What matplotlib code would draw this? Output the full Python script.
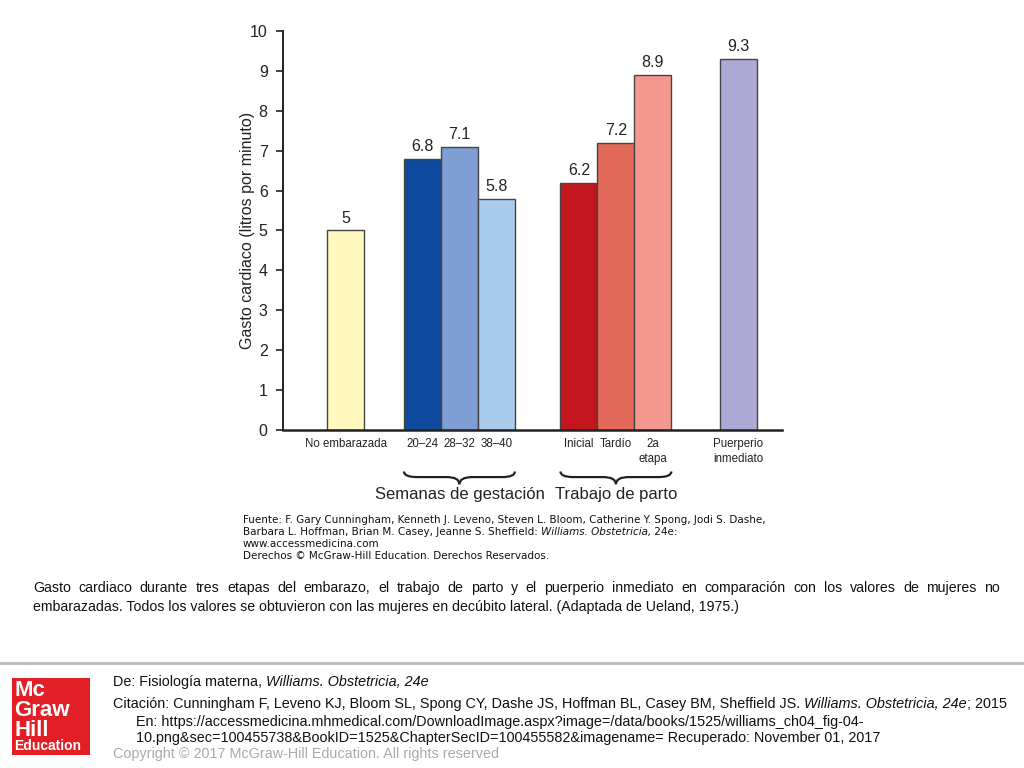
import matplotlib
matplotlib.use("Agg")
import matplotlib.pyplot as plt
from matplotlib.patches import Rectangle, PathPatch
from matplotlib.path import Path
import matplotlib.transforms as mtransforms

categories = ["No embarazada", "20–24", "28–32", "38–40", "Inicial", "Tardío", "2a\netapa", "Puerperio\ninmediato"]
values = [5, 6.8, 7.1, 5.8, 6.2, 7.2, 8.9, 9.3]
value_labels = ["5", "6.8", "7.1", "5.8", "6.2", "7.2", "8.9", "9.3"]
bar_colors = ["#FFF9BE", "#0E4A9E", "#7F9ED3", "#A9CBEC", "#C3161E", "#E46A5B", "#F4988F", "#ADA9D5"]
positions = [1.69, 3.77, 4.77, 5.77, 8.0, 9.0, 10.0, 12.31]
groups = [("Semanas de gestación", 1, 3), ("Trabajo de parto", 4, 6)]
y_ticks = list(range(0, 11))

plt.rcParams["font.family"] = ["Liberation Sans", "DejaVu Sans"]

fig = plt.figure(figsize=(10.24, 7.68), dpi=100)
ax = fig.add_axes([283/1024, 1-430/768, (782-283)/1024, (430-31)/768])
ax.bar(positions, values, width=1.0, color=bar_colors, edgecolor="#444444", linewidth=1.0, zorder=2)
for p, v, lab in zip(positions, values, value_labels):
    ax.text(p, v + 0.12, lab, ha="center", va="bottom", fontsize=11.5, color="#222222")
ax.set_xlim(0, 13.49)
ax.set_ylim(0, 10)
ax.set_yticks(y_ticks)
ax.tick_params(axis="y", labelsize=11.5, length=5, width=1.2, colors="#222222", pad=6)
ax.set_xticks(positions)
ax.set_xticklabels(categories, fontsize=8.3, color="#222222", linespacing=1.25)
ax.tick_params(axis="x", length=0, pad=6)
for s in ["top", "right"]:
    ax.spines[s].set_visible(False)
ax.spines["left"].set_linewidth(1.4)
ax.spines["bottom"].set_linewidth(1.8)
ax.spines["left"].set_color("#222222")
ax.spines["bottom"].set_color("#222222")
ax.set_ylabel("Gasto cardiaco (litros por minuto)", fontsize=11.5, color="#222222")
ax.yaxis.set_label_coords(-0.056, 0.5)

trans = mtransforms.blended_transform_factory(ax.transData, ax.transAxes)
for name, i0, i1 in groups:
    x0 = positions[i0] - 0.5
    x1 = positions[i1] + 0.5
    xm = (x0 + x1) / 2
    yt, yb, yv = -0.104, -0.118, -0.136
    r = 0.35
    cl = [Path.MOVETO, Path.CURVE3, Path.CURVE3, Path.LINETO, Path.CURVE3, Path.CURVE3]
    vl = [(x0, yt), (x0, yb), (x0 + r, yb), (xm - r, yb), (xm, yb), (xm, yv)]
    vr = [(x1, yt), (x1, yb), (x1 - r, yb), (xm + r, yb), (xm, yb), (xm, yv)]
    for vv in (vl, vr):
        pp = PathPatch(Path(vv, cl), facecolor="none", edgecolor="#222222", lw=1.6,
                       transform=trans, clip_on=False)
        ax.add_patch(pp)
    ax.text(xm, -0.162, name, transform=trans, ha="center", va="center", fontsize=12, color="#222222")

fig.canvas.draw()
renderer = fig.canvas.get_renderer()

def runs(x, y, parts, **kw):
    cx = x
    for txt, style in parts:
        t = fig.text(cx / 1024, 1 - y / 768, txt, va="center", ha="left", style=style, **kw)
        cx += t.get_window_extent(renderer).width
    return cx

# Source block
src = ("Fuente: F. Gary Cunningham, Kenneth J. Leveno, Steven L. Bloom, Catherine Y. Spong, Jodi S. Dashe,",
       "Barbara L. Hoffman, Brian M. Casey, Jeanne S. Sheffield: ", "www.accessmedicina.com",
       "Derechos © McGraw-Hill Education. Derechos Reservados.")
sk = dict(fontsize=7.45, color="#111111", family="DejaVu Sans")
runs(243, 520, [(src[0], "normal")], **sk)
runs(243, 532, [(src[1], "normal"), ("Williams. Obstetricia,", "italic"), (" 24e:", "normal")], **sk)
runs(243, 544, [(src[2], "normal")], **sk)
runs(243, 556, [(src[3], "normal")], **sk)

# Caption, justified first line
cap1 = "Gasto cardiaco durante tres etapas del embarazo, el trabajo de parto y el puerperio inmediato en comparación con los valores de mujeres no"
cap2 = "embarazadas. Todos los valores se obtuvieron con las mujeres en decúbito lateral. (Adaptada de Ueland, 1975.)"
ck = dict(fontsize=10.2, color="#111111", family="Liberation Sans")
words = cap1.split(" ")
objs = []
tot = 0
for w in words:
    t = fig.text(0, 0, w, **ck)
    wd = t.get_window_extent(renderer).width
    objs.append((t, wd))
    tot += wd
L, R = 33, 1000
gap = (R - L - tot) / (len(words) - 1)
cx = L
for t, wd in objs:
    t.set_position((cx / 1024, 1 - 588 / 768))
    t.set_va("center")
    cx += wd + gap
fig.text(33 / 1024, 1 - 607 / 768, cap2, va="center", ha="left", **ck)

# separator line
fig.add_artist(plt.Line2D([0, 1], [1 - 663 / 768, 1 - 663 / 768], color="#BBBBBB", lw=2, transform=fig.transFigure))

# logo
fig.add_artist(Rectangle((12 / 1024, 1 - 755 / 768), 78 / 1024, 77 / 768, transform=fig.transFigure,
                         facecolor="#E21F26", edgecolor="none"))
for txt, yy, fs in [("Mc", 691, 16), ("Graw", 711, 16), ("Hill", 730, 16), ("Education", 746, 10)]:
    fig.text(14 / 1024, 1 - yy / 768, txt, color="white", fontsize=fs, fontweight="bold",
             family="Liberation Sans", va="center", ha="left")

fk = dict(fontsize=10.4, color="#111111", family="Liberation Sans")
runs(113, 682, [("De: Fisiología materna, ", "normal"), ("Williams. Obstetricia, 24e", "italic")], **fk)
runs(113, 704, [("Citación: Cunningham F, Leveno KJ, Bloom SL, Spong CY, Dashe JS, Hoffman BL, Casey BM, Sheffield JS. ", "normal"),
                ("Williams. Obstetricia, 24e", "italic"), ("; 2015", "normal")], **fk)
runs(136, 722, [("En: https://accessmedicina.mhmedical.com/DownloadImage.aspx?image=/data/books/1525/williams_ch04_fig-04-", "normal")], **fk)
runs(136, 738, [("10.png&sec=100455738&BookID=1525&ChapterSecID=100455582&imagename= Recuperado: November 01, 2017", "normal")], **fk)
gk = dict(fk)
gk["color"] = "#AAAAAA"
runs(113, 754, [("Copyright © 2017 McGraw-Hill Education. All rights reserved", "normal")], **gk)

fig.savefig("out.png", dpi=100)
